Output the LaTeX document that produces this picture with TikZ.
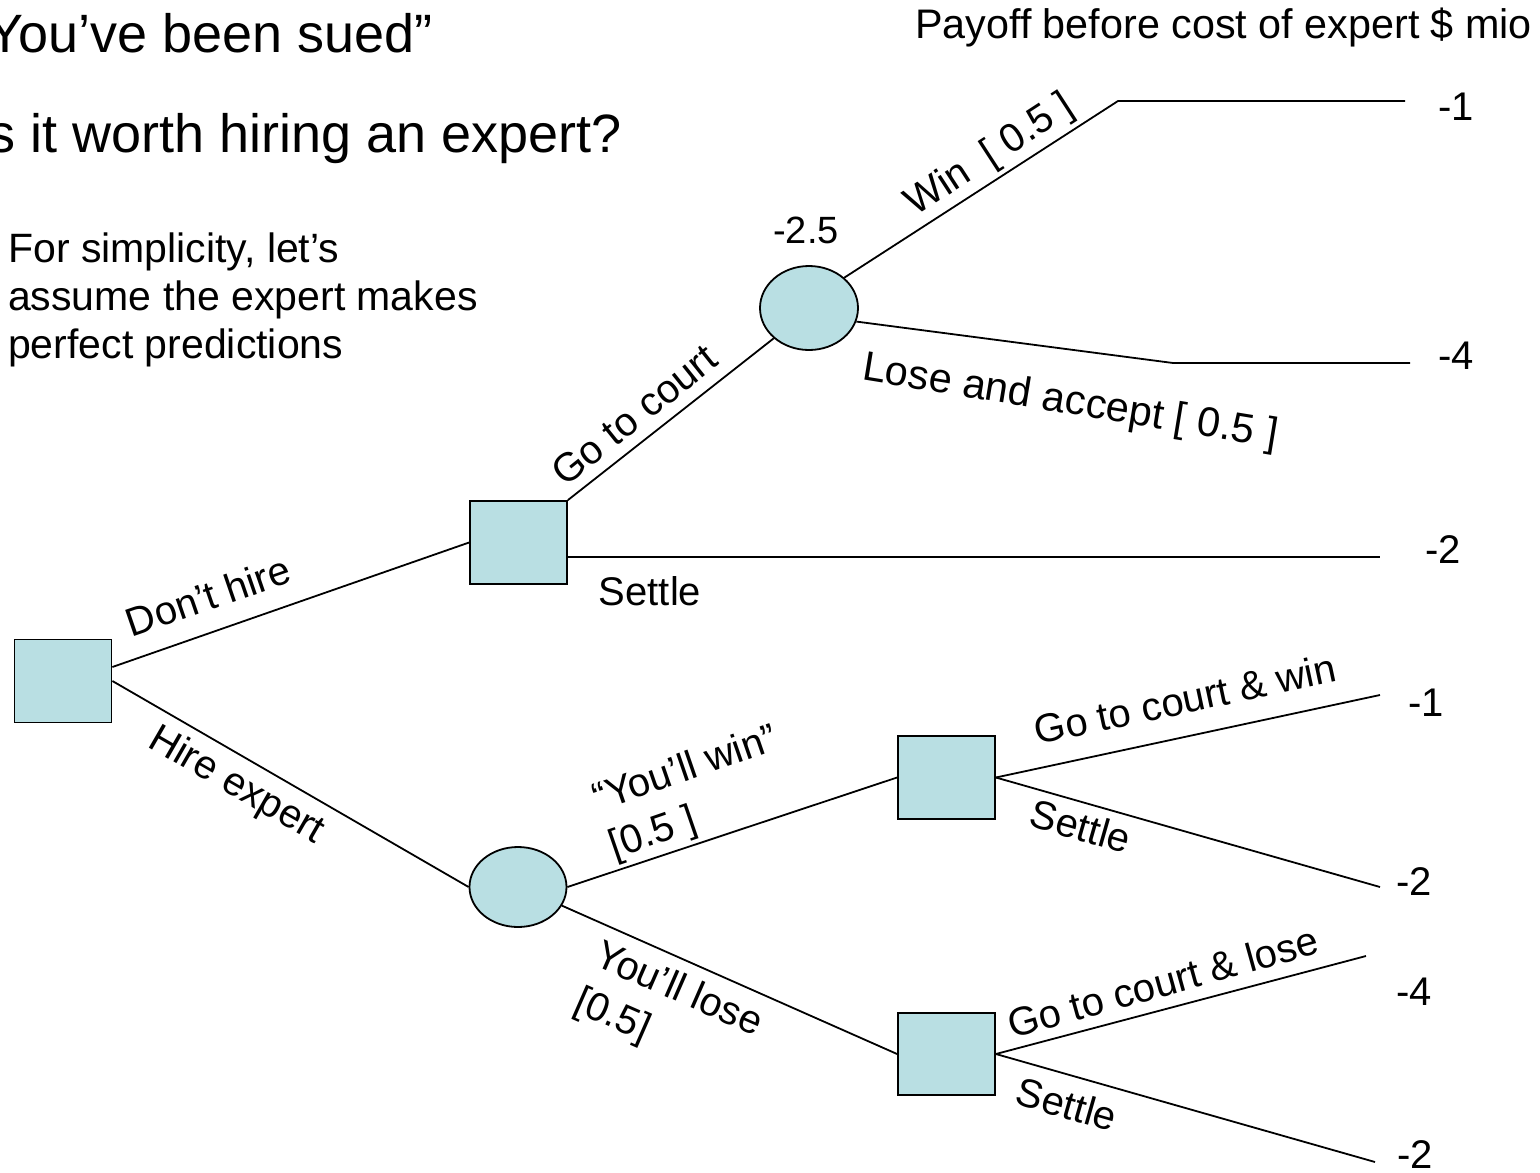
\documentclass[tikz,border=0pt]{standalone}
\usepackage{fontspec}
\setmainfont{Liberation Sans}
\usetikzlibrary{shapes.geometric}
\definecolor{nodefill}{RGB}{185,223,227}
\tikzset{
  decision/.style={draw=black, line width=1.8pt, fill=nodefill, rectangle, minimum width=97pt, minimum height=83pt, inner sep=0pt},
  chance/.style={draw=black, line width=1.8pt, fill=nodefill, ellipse, minimum width=97pt, minimum height=82pt, inner sep=0pt},
  branch/.style={line width=1.8pt},
  lbl/.style={font=\fontsize{40}{48}\selectfont, inner sep=0pt},
  lblblock/.style={font=\fontsize{40}{50}\selectfont, inner sep=0pt, align=left},
  pay/.style={font=\fontsize{40}{44}\selectfont, inner sep=0pt},
  title/.style={font=\fontsize{54}{60}\selectfont, inner sep=0pt},
  note/.style={font=\fontsize{41}{48}\selectfont, inner sep=0pt, anchor=base west},
}
\begin{document}
\begin{tikzpicture}[x=1pt, y=-1pt]
\useasboundingbox (0,0) rectangle (1540,1173);
\clip (0,0) rectangle (1540,1173);

% titles and notes
\node[title, anchor=base east] (t1) at (433,52) {“You’ve been sued”};
\node[title, anchor=base east] (t2) at (622,152) {Is it worth hiring an expert?};
\node[note] (n1) at (8,262) {For simplicity, let’s};
\node[note] (n2) at (8,310) {assume the expert makes};
\node[note] (n3) at (8,358) {perfect predictions};
\node[font=\fontsize{41.3}{48}\selectfont, inner sep=0pt, anchor=base west] (hdr) at (915,38) {Payoff before cost of expert \$ mio};

% nodes
\node[decision] (root) at (63,681) {};
\node[decision] (A) at (518.5,542.5) {};
\node[chance, minimum width=98pt, minimum height=84pt] (c1) at (809,308) {};
\node[chance, minimum height=80pt] (c2) at (518,887) {};
\node[decision] (B) at (946.5,777.5) {};
\node[decision, minimum height=82pt] (C) at (946.5,1054) {};

% free ends
\coordinate (wc) at (1118,101);
\coordinate (wend) at (1405,101);
\coordinate (lc) at (1173,363);
\coordinate (lend) at (1410,363);
\coordinate (send) at (1380,557);
\coordinate (bw) at (1380,695);
\coordinate (bs) at (1380,887);
\coordinate (cl) at (1366,956);
\coordinate (cs) at (1375,1162);

% connectors
\draw[branch] ([yshift=14pt]root.east) -- (A.west);
\draw[branch] (root.east) -- (c2.west);
\draw[branch] (A.north east) -- (c1.south west);
\draw[branch] ([yshift=-14.5pt]A.east) -- (send);
\draw[branch] (c1.north east) -- (wc) -- (wend);
\draw[branch] (c1.-16) -- (lc) -- (lend);
\draw[branch] (c2.east) -- (B.west);
\draw[branch] (c2.-23) -- (C.west);
\draw[branch] (B.east) -- (bw);
\draw[branch] (B.east) -- (bs);
\draw[branch] (C.east) -- (cl);
\draw[branch] (C.east) -- (cs);

% branch labels
\node[lbl, rotate=19] (l1) at (208,596) {Don’t hire};
\node[lbl, rotate=-30] (l2) at (236,786) {Hire expert};
\node[lbl, rotate=38.7] (l3) at (634,415) {Go to court};
\node[lbl] (l4) at (650,591) {Settle};
\node[lbl, rotate=33] (l5) at (990,156) {Win\ \ [ 0.5 ]};
\node[lbl, font=\fontsize{41.5}{48}\selectfont, rotate=-9.3] (l6) at (1070,403) {Lose and accept [ 0.5 ]};
\node[lblblock, rotate=19] (l7) at (694,794) {“You’ll win”\\ {[0.5 ]}};
\node[lblblock, rotate=-23.6] (l8) at (668,1014) {You’ll lose\\ {[0.5]}};
\node[lbl, rotate=12] (l9) at (1185,699) {Go to court \& win};
\node[lbl, rotate=-16] (l10) at (1081,826) {Settle};
\node[lbl, rotate=15.5] (l11) at (1163,982) {Go to court \& lose};
\node[lbl, rotate=-16] (l12) at (1067,1104) {Settle};
\node[pay, font=\fontsize{38}{44}\selectfont] (ev) at (806,230) {-2.5};

% payoffs
\node[pay] (p1) at (1456,107) {-1};
\node[pay] (p2) at (1456,356) {-4};
\node[pay] (p3) at (1443,550) {-2};
\node[pay] (p4) at (1426,703) {-1};
\node[pay] (p5) at (1414,882) {-2};
\node[pay] (p6) at (1414,992) {-4};
\node[pay] (p7) at (1415,1155) {-2};
\end{tikzpicture}
\end{document}
